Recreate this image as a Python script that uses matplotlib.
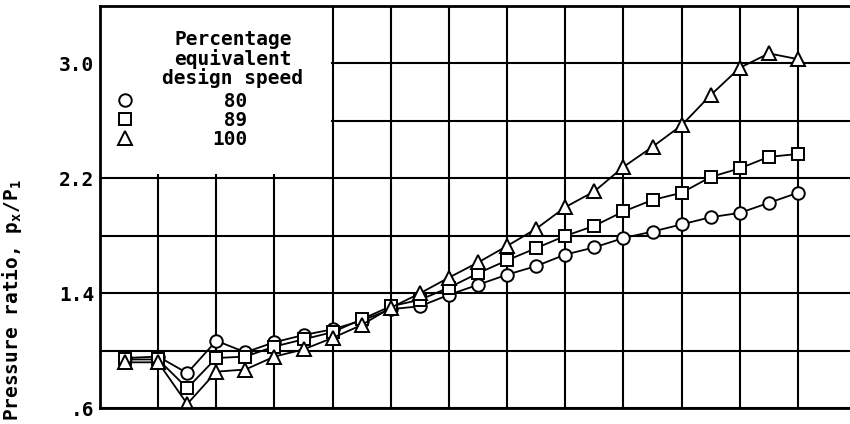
import numpy as np
import matplotlib
matplotlib.use('Agg')
import matplotlib.pyplot as plt
from matplotlib.patches import Rectangle
from matplotlib.lines import Line2D

plt.rcParams['font.family'] = ['DejaVu Sans Mono']
plt.rcParams['font.weight'] = 'bold'
plt.rcParams['axes.labelweight'] = 'bold'
plt.rcParams['mathtext.default'] = 'regular'

# station number (no axis labels in the original crop)
x = [0.85] + list(range(2, 25))
# pressure ratio for each equivalent design speed
p80 = [0.95, 0.96, 0.845, 1.07, 0.99, 1.06, 1.11, 1.15, 1.21, 1.29, 1.31, 1.39,
       1.46, 1.53, 1.59, 1.67, 1.72, 1.785, 1.83, 1.88, 1.93, 1.96, 2.03, 2.10]
p89 = [0.94, 0.94, 0.74, 0.95, 0.96, 1.03, 1.08, 1.13, 1.22, 1.31, 1.355, 1.44,
       1.54, 1.63, 1.715, 1.80, 1.87, 1.97, 2.05, 2.10, 2.21, 2.27, 2.35, 2.37]
p100 = [0.92, 0.92, 0.63, 0.855, 0.87, 0.96, 1.01, 1.09, 1.18, 1.30, 1.40, 1.51,
        1.615, 1.73, 1.85, 2.00, 2.11, 2.28, 2.42, 2.57, 2.78, 2.97, 3.07, 3.03]
speeds = [' 80', ' 89', '100']
yticks = [0.6, 1.0, 1.4, 1.8, 2.2, 2.6, 3.0, 3.4]
ylabels = ['.6', '', '1.4', '', '2.2', '', '3.0', '']

fig = plt.figure(figsize=(8.5, 4.24), dpi=100)
ax = fig.add_axes([100/850, 15.7/424, 750/850, 402.3/424])

mk = dict(color='black', lw=1.3, mfc='white', mec='black', mew=1.4)
ax.plot(x, p80, marker='o', ms=9, **mk)
ax.plot(x, p89, marker='s', ms=8.5, **mk)
ax.plot(x, p100, marker='^', ms=9.5, **mk)

ax.set_xlim(0, 25.79)
ax.set_ylim(0.6, 3.4)
ax.set_xticks(np.arange(0, 25, 2))
ax.set_xticklabels([])
ax.set_yticks(yticks)
ax.set_yticklabels(ylabels, fontsize=14)
ax.tick_params(length=0, pad=4)
ax.grid(True, color='black', lw=1.5)
ax.set_axisbelow(True)
for s in ['left', 'bottom', 'top']:
    ax.spines[s].set_linewidth(2)
ax.spines['right'].set_visible(False)

# blank legend panel over the grid
ax.add_patch(Rectangle((0.05, 2.23), 7.9, 1.16, facecolor='white',
                       edgecolor='none', zorder=1))
ax.text(0.177, 0.868, 'Percentage\nequivalent\ndesign speed', transform=ax.transAxes,
        ha='center', va='center', fontsize=14, linespacing=0.95)

handles = [Line2D([], [], ls='none', marker=m, ms=s, mfc='white', mec='black', mew=1.4)
           for m, s in zip(['o', 's', '^'], [9, 8.5, 9.5])]
ax.legend(handles, speeds, loc='upper left', bbox_to_anchor=(0.02, 0.786),
          frameon=False, fontsize=14, handlelength=1, handletextpad=4,
          labelspacing=0, borderpad=0, borderaxespad=0)

ax.set_ylabel('Pressure ratio, p$_x$/P$_1$', fontsize=14, fontweight='bold')
ax.yaxis.set_label_coords(-0.101, 0.27)

fig.savefig('out.png', dpi=100)
